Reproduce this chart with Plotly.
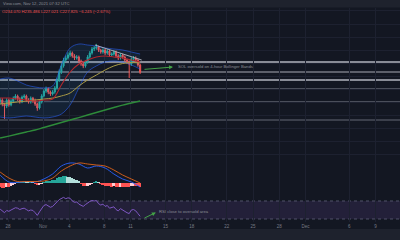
import plotly.graph_objects as go

# ---------------- data ----------------
# x positions are in days counted from 28 Oct 2021 00:00 (6-hour candles)
candle_start = -0.9
candle_step = 0.25
closes = [200.0, 195.6, 193.3, 199.8, 194.6, 198.9, 202.1, 204.4, 201.2, 198.0,
          203.2, 204.4, 200.1, 197.9, 202.1, 199.0, 195.6, 191.1, 197.8, 204.5,
          210.0, 212.3, 208.9, 206.7, 208.9, 213.4, 222.3, 231.2, 237.9, 244.5,
          246.8, 250.1, 252.3, 249.0, 246.8, 247.9, 243.4, 240.1, 237.9, 242.3,
          247.9, 252.3, 256.8, 257.9, 259.0, 255.7, 253.4, 255.7, 252.3, 254.5,
          250.1, 251.2, 253.4, 249.0, 246.8, 250.1, 247.9, 244.5, 242.3, 240.1,
          245.6, 246.8, 244.5, 239.0, 231.0]
opens = [198.0, 200.0, 195.6, 193.3, 199.8, 194.6, 198.9, 202.1, 204.4, 201.2,
         198.0, 203.2, 204.4, 200.1, 197.9, 202.1, 199.0, 195.6, 191.1, 197.8,
         204.5, 210.0, 212.3, 208.9, 206.7, 208.9, 213.4, 222.3, 231.2, 237.9,
         244.5, 246.8, 250.1, 252.3, 249.0, 246.8, 247.9, 243.4, 240.1, 237.9,
         242.3, 247.9, 252.3, 256.8, 257.9, 259.0, 255.7, 253.4, 255.7, 252.3,
         254.5, 250.1, 251.2, 253.4, 249.0, 246.8, 250.1, 247.9, 244.5, 242.3,
         240.1, 245.6, 246.8, 244.5, 239.0]
highs = [202.5, 202.0, 197.0, 202.0, 201.5, 201.0, 204.0, 206.5, 206.0, 203.0,
         205.0, 206.5, 206.0, 202.0, 204.0, 203.5, 201.5, 197.0, 199.5, 206.5,
         212.0, 215.0, 214.0, 210.5, 211.0, 215.5, 225.0, 234.0, 241.0, 247.0,
         249.5, 253.0, 255.0, 254.0, 251.0, 250.0, 249.5, 245.0, 242.0, 244.0,
         250.0, 254.5, 259.0, 260.0, 262.5, 260.5, 257.0, 257.5, 257.0, 256.5,
         256.0, 253.0, 255.5, 255.0, 251.0, 252.0, 251.5, 249.5, 246.0, 244.0,
         247.5, 249.0, 248.5, 246.0, 240.5]
lows = [195.0, 193.0, 179.0, 191.0, 192.5, 193.0, 197.0, 200.5, 199.0, 196.0,
        196.5, 201.5, 198.0, 196.0, 196.0, 197.0, 193.5, 188.0, 189.5, 196.0,
        203.0, 208.0, 206.5, 204.5, 205.0, 207.0, 211.5, 220.0, 229.0, 236.0,
        242.5, 245.0, 248.0, 247.0, 244.5, 245.0, 241.5, 238.0, 235.5, 236.0,
        240.5, 246.0, 250.5, 254.5, 256.0, 253.5, 251.5, 251.5, 250.0, 250.5,
        248.0, 248.5, 249.5, 247.0, 244.5, 245.0, 246.0, 242.5, 240.0, 224.5,
        238.0, 243.5, 242.5, 237.0, 229.0]

# indicator lines, sampled every 4th candle
bb_upper = [223.4, 224.5, 221.2, 216.7, 214.5, 213.4, 215.6, 239.0, 257.9, 262.3,
            261.2, 260.1, 257.9, 256.8, 255.7, 253.4, 251.2]
bb_lower = [181.1, 180.0, 181.1, 182.2, 181.1, 180.0, 181.1, 184.4, 194.4, 213.4,
            231.2, 237.9, 242.3, 243.4, 242.3, 239.0, 234.5]
bb_basis = [202.2, 202.2, 201.1, 200.0, 198.9, 200.0, 201.1, 216.7, 231.2, 240.1,
            244.5, 247.9, 249.0, 247.9, 246.8, 244.5, 242.3]
ma_50 = [195.6, 196.7, 197.8, 198.9, 200.0, 201.1, 202.2, 204.5, 207.8, 215.6,
         222.3, 227.8, 233.4, 237.9, 240.6, 241.7, 241.2]
ma_200 = [157.7, 159.9, 162.2, 164.4, 166.6, 169.4, 172.2, 175.0, 177.8, 180.5,
          183.3, 186.1, 188.9, 191.7, 194.4, 196.7, 198.9]

macd_line = [8, 1, 0.5, 1.5, 1, 4, 9, 17, 20, 19, 15, 17, 15, 9, 4, 1, -4]
signal_line = [11, 5, 1.5, 1.5, 1.5, 2, 5, 12, 17, 20, 19, 18, 17, 13, 8, 4, 0]
macd_hist = [-4, -5, -5, -4, -4, -3, -1.5, -0.5, 0.5, 1, 1, 1, 0.8, 0.6, 0.8, 0.5,
             -0.8, -2, -1.5, -0.5, 0.8, 2, 2.5, 2.5, 3, 3.5, 5, 6, 6.5, 7, 7, 6.5,
             6, 5, 4, 3, 1.5, -1, -2.5, -3, -2.5, -1.5, -0.5, 1, 1.5, 0.5, -1,
             -1.5, -2.5, -2.5, -3, -3.5, -3, -3.5, -4, -3.5, -3.5, -4, -4, -4, -3,
             -2.5, -2.5, -3, -3.5]

rsi = [52, 48, 44, 49, 47, 50, 53, 55, 54, 51, 53, 54, 51, 48, 50, 49, 44, 38, 46,
       54, 60, 62, 58, 56, 58, 62, 68, 73, 76, 78, 75, 77, 76, 70, 67, 68, 63, 60,
       58, 62, 66, 69, 71, 70, 71, 64, 61, 63, 58, 60, 54, 55, 57, 51, 48, 53, 50,
       46, 44, 42, 50, 51, 48, 42, 36]

levels = [242.3, 231.2, 222.3, 212.3, 197.8, 177.8]
level_colors = ["#b2b5be", "#5d606b", "#b2b5be", "#4a4e5a", "#4a4e5a", "#4a4e5a"]
level_widths = [1.3, 2, 1.3, 2, 2, 1.5]

trend_x = [9.94, 15.28]
trend_y = [261.2, 244.5]

tick_days = [0, 4, 7, 11, 14, 18, 21, 25, 28, 31, 34, 39, 42]
tick_labels = ["28", "Nov", "4", "8", "11", "15", "18", "22", "25", "28", "Dec", "6", "9"]

header_text = "View.com, Nov 12, 2021 07:32 UTC"
ohlc_text = "O234.070 H235.486 L227.021 C227.825 \u22126.245 (\u22122.67%)"
note_price = "SOL oversold on 4-hour Bollinger Bands"
note_rsi = "RSI close to oversold area"
arrow_price = dict(x0=15.43, y0=234.0, x1=18.86, y1=236.7)
arrow_rsi = dict(x0=15.43, y0=30.5, x1=16.9, y1=44.4)

# ---------------- figure ----------------
t = [round(candle_start + candle_step * i, 3) for i in range(len(closes))]
t4 = t[::4]

BG = "#131722"
GRID = "#1d2130"

fig = go.Figure()

# Bollinger band fill + lines
fig.add_trace(go.Scatter(x=t4, y=bb_upper, mode="lines", line=dict(color="rgba(41,98,255,0.55)", width=1, shape="spline"),
                         xaxis="x", yaxis="y", hoverinfo="skip"))
fig.add_trace(go.Scatter(x=t4, y=bb_lower, mode="lines", line=dict(color="rgba(41,98,255,0.55)", width=1, shape="spline"),
                         fill="tonexty", fillcolor="rgba(33,150,243,0.09)", xaxis="x", yaxis="y", hoverinfo="skip"))
fig.add_trace(go.Scatter(x=t4, y=ma_200, mode="lines", line=dict(color="#2e8b3a", width=1.4, shape="spline"),
                         xaxis="x", yaxis="y"))
fig.add_trace(go.Scatter(x=t4, y=ma_50, mode="lines", line=dict(color="#a89a45", width=1, shape="spline"),
                         xaxis="x", yaxis="y"))
fig.add_trace(go.Scatter(x=t4, y=bb_basis, mode="lines", line=dict(color="#b3262c", width=1.1, shape="spline"),
                         xaxis="x", yaxis="y"))

fig.add_trace(go.Candlestick(x=t, open=opens, high=highs, low=lows, close=closes,
                             increasing=dict(line=dict(color="#26a69a", width=1), fillcolor="#26a69a"),
                             decreasing=dict(line=dict(color="#ef5350", width=1), fillcolor="#ef5350"),
                             whiskerwidth=0, xaxis="x", yaxis="y"))

fig.add_trace(go.Scatter(x=trend_x, y=trend_y, mode="lines", line=dict(color="#b2b5be", width=0.9),
                         xaxis="x", yaxis="y"))

# MACD
hist_colors = []
for i, v in enumerate(macd_hist):
    prev = macd_hist[i - 1] if i > 0 else v
    if v >= 0:
        hist_colors.append("#26a69a" if v >= prev else "#b2dfdb")
    else:
        hist_colors.append("#ff5252" if v <= prev else "#ffcdd2")
fig.add_trace(go.Bar(x=t, y=macd_hist, marker=dict(color=hist_colors, line=dict(width=0)), width=0.22,
                     xaxis="x2", yaxis="y2"))
fig.add_trace(go.Scatter(x=t4, y=macd_line, mode="lines", line=dict(color="#2962ff", width=0.9, shape="spline"),
                         xaxis="x2", yaxis="y2"))
fig.add_trace(go.Scatter(x=t4, y=signal_line, mode="lines", line=dict(color="#e0641a", width=0.9, shape="spline"),
                         xaxis="x2", yaxis="y2"))

# RSI
fig.add_trace(go.Scatter(x=t, y=rsi, mode="lines", line=dict(color="#7e57c2", width=1),
                         xaxis="x3", yaxis="y3"))

px = lambda p: 1 - p / 240.0

xcommon = dict(range=[-0.914, 44.8], tickvals=tick_days, ticktext=tick_labels, showgrid=True,
               gridcolor=GRID, gridwidth=1, zeroline=False, showline=False, ticks="",
               rangeslider=dict(visible=False), fixedrange=True)

fig.update_layout(
    width=400, height=240, margin=dict(l=0, r=0, t=0, b=0),
    paper_bgcolor=BG, plot_bgcolor=BG, showlegend=False, bargap=0,
    font=dict(family="Liberation Sans, Arial", size=5, color="#787b86"),
    xaxis=dict(domain=[0, 1], anchor="y", showticklabels=False, **xcommon),
    xaxis2=dict(domain=[0, 1], anchor="y2", matches="x", showticklabels=False, **xcommon),
    xaxis3=dict(domain=[0, 1], anchor="y3", matches="x", showticklabels=True,
                tickfont=dict(size=4.5, color="#787b86"), **xcommon),
    yaxis=dict(domain=[px(157), px(8)], range=[136.6, 302.4], showticklabels=False, showgrid=True,
               gridcolor=GRID, tick0=299.1, dtick=14.5, zeroline=False),
    yaxis2=dict(domain=[px(195), px(157)], range=[-12, 26], showticklabels=False, showgrid=False,
                zeroline=False),
    yaxis3=dict(domain=[px(222), px(195)], range=[23.3, 83.3], showticklabels=False, showgrid=False,
                zeroline=False),
)

shapes = []
# header + bottom strip
shapes.append(dict(type="rect", xref="paper", yref="paper", x0=0, x1=1, y0=px(7.5), y1=1,
                   fillcolor="#1e222d", line=dict(width=0), layer="above"))
shapes.append(dict(type="rect", xref="paper", yref="paper", x0=0, x1=1, y0=0, y1=px(229),
                   fillcolor="#1e222d", line=dict(width=0), layer="above"))
# horizontal levels
for lv, c, w in zip(levels, level_colors, level_widths):
    shapes.append(dict(type="line", xref="paper", yref="y", x0=0, x1=1, y0=lv, y1=lv,
                       line=dict(color=c, width=w), layer="below"))
# RSI band
shapes.append(dict(type="rect", xref="paper", yref="y3", x0=0, x1=1, y0=30, y1=70,
                   fillcolor="rgba(126,87,194,0.15)", line=dict(width=0), layer="below"))
for lv in (30, 70):
    shapes.append(dict(type="line", xref="paper", yref="y3", x0=0, x1=1, y0=lv, y1=lv,
                       line=dict(color="#50536a", width=1, dash="dot"), layer="below"))
fig.update_layout(shapes=shapes)

ann = []
ann.append(dict(xref="paper", yref="paper", x=0.003, y=px(3.8), text=header_text, showarrow=False,
                xanchor="left", yanchor="middle", font=dict(size=4.2, color="#8a8d96")))
ann.append(dict(xref="paper", yref="paper", x=0.0, y=px(11.5), text=ohlc_text, showarrow=False,
                xanchor="left", yanchor="middle", font=dict(size=4.2, color="#ef5350")))
ann.append(dict(xref="x", yref="y", x=arrow_price["x1"], y=arrow_price["y1"], ax=arrow_price["x0"],
                ay=arrow_price["y0"], axref="x", ayref="y", text="", showarrow=True, arrowhead=2,
                arrowsize=0.8, arrowwidth=1, arrowcolor="#43a047", standoff=0))
ann.append(dict(xref="x", yref="y", x=19.2, y=236.9, text=note_price, showarrow=False,
                xanchor="left", yanchor="middle", font=dict(size=4.2, color="#8a8d96")))
ann.append(dict(xref="x3", yref="y3", x=arrow_rsi["x1"], y=arrow_rsi["y1"], ax=arrow_rsi["x0"],
                ay=arrow_rsi["y0"], axref="x3", ayref="y3", text="", showarrow=True, arrowhead=2,
                arrowsize=0.8, arrowwidth=1, arrowcolor="#43a047", standoff=0))
ann.append(dict(xref="x3", yref="y3", x=17.0, y=47.5, text=note_rsi, showarrow=False,
                xanchor="left", yanchor="middle", font=dict(size=4.2, color="#8a8d96")))
fig.update_layout(annotations=ann)

fig.write_html("out.html")
